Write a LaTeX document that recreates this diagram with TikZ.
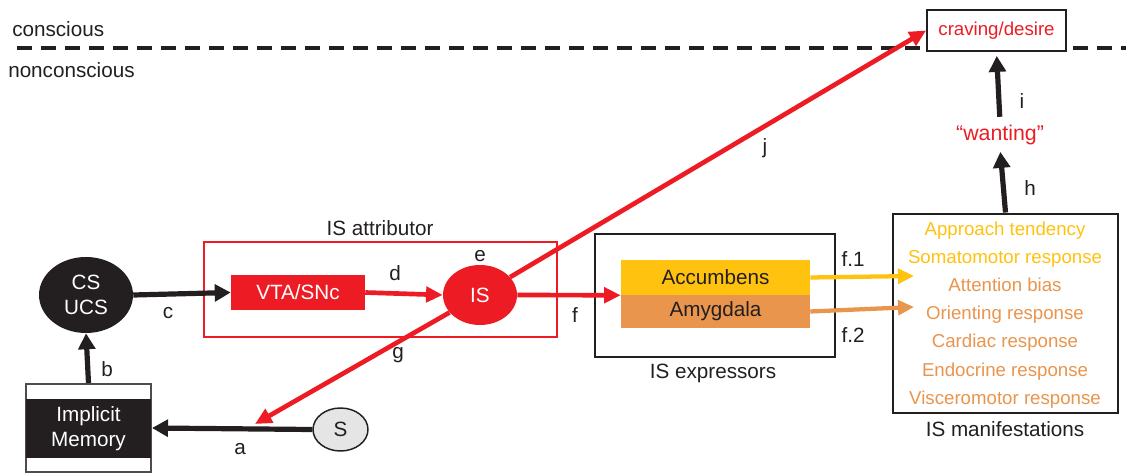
\documentclass[tikz,border=0pt]{standalone}
\usepackage{fontspec}
\setmainfont{Liberation Sans}
\usetikzlibrary{arrows.meta,shapes.geometric}
\definecolor{isred}{HTML}{ED1C24}
\definecolor{accy}{HTML}{FFC20E}
\definecolor{amyo}{HTML}{E9954D}
\definecolor{ink}{HTML}{231F20}
\begin{document}
\begin{tikzpicture}[x=0.75pt,y=-0.75pt,
  font=\fontsize{15.5}{18.75}\selectfont, text=ink,
  lbl/.style={inner sep=0pt},
  manit/.style={inner sep=0pt, anchor=base, font=\fontsize{14}{16}\selectfont},
  blkarr/.style={draw=ink, line width=3.9pt, -{Triangle[length=12pt,width=12.5pt]}},
  redarr/.style={draw=isred, line width=3.5pt, -{Triangle[length=12.5pt,width=11.5pt]}},
  colarr/.style={line width=3.2pt, -{Triangle[length=12pt,width=11pt]}},
  blkbox/.style={draw=ink, line width=2.2pt, fill=white, inner sep=0pt},
  fillbox/.style={inner sep=0pt, minimum width=141.75pt},
]
\useasboundingbox (0,0) rectangle (1126,473);

% conscious / nonconscious divide
\draw[ink, line width=2.6pt, dash pattern=on 11pt off 7pt] (17,48) -- (1126,48);
\node[lbl, anchor=base west] (cons) at (12,37) {conscious};
\node[lbl, anchor=base west] (noncons) at (8,78) {nonconscious};

% craving / desire
\node[draw=ink, line width=1.6pt, fill=white, minimum width=104pt, minimum height=30.5pt,
      inner sep=0pt, text=isred, font=\fontsize{14}{16}\selectfont] (crave) at (996.5,30.5) {craving/desire};

% wanting
\node[inner sep=2pt, text=isred, font=\fontsize{16}{18}\selectfont] (want) at (1000,135) {“wanting”};

% IS manifestations
\node[blkbox, minimum width=168.75pt, minimum height=149.25pt] (manif) at (1005.5,313.5) {};
\node[manit, text=accy] (m1) at (1005,236) {Approach tendency};
\node[manit, text=accy] (m2) at (1005,264) {Somatomotor response};
\node[manit, text=amyo] (m3) at (1005,292) {Attention bias};
\node[manit, text=amyo] (m4) at (1005,320) {Orienting response};
\node[manit, text=amyo] (m5) at (1005,348) {Cardiac response};
\node[manit, text=amyo] (m6) at (1005,376) {Endocrine response};
\node[manit, text=amyo] (m7) at (1005,404) {Visceromotor response};
\node[lbl] (manlbl) at (1005,429) {IS manifestations};

% IS expressors
\node[blkbox, minimum width=180pt, minimum height=92.25pt] (expr) at (715,295.5) {};
\node[fillbox, fill=accy, minimum height=26.25pt] (acc) at (715.5,277.5) {Accumbens};
\node[fillbox, fill=amyo, minimum height=24.75pt] (amy) at (715.5,311.5) {Amygdala};
\node[lbl] (exprlbl) at (713,373) {IS expressors};

% IS attributor
\node[draw=isred, line width=1.5pt, inner sep=0pt, minimum width=264.75pt, minimum height=71.25pt] (attr) at (380.5,289.5) {};
\node[lbl] (attrlbl) at (380,228) {IS attributor};
\node[fill=isred, text=white, inner sep=0pt, minimum width=100.5pt, minimum height=26.25pt] (vta) at (298,292.5) {VTA/SNc};
\node[ellipse, fill=isred, text=white, inner sep=0pt, minimum width=55.5pt, minimum height=45pt] (is) at (480,295) {IS};

% CS UCS
\node[ellipse, fill=ink, text=white, inner sep=0pt, minimum width=70.5pt, minimum height=57pt, align=center] (cs) at (86,295) {CS\\UCS};

% Implicit memory
\node[draw=ink!80, line width=1.5pt, fill=white, inner sep=0pt, minimum width=93.75pt, minimum height=66pt] (mem) at (88.5,428) {};
\node[fill=ink, text=white, inner sep=0pt, minimum width=93.75pt, minimum height=44.25pt, align=center] (memin) at (88.5,428.5) {Implicit\\Memory};

% S
\node[ellipse, draw=ink, line width=1.1pt, fill=black!10, inner sep=0pt, minimum width=41.25pt, minimum height=32.25pt] (s) at (340.5,429.5) {S};

% free ends
\coordinate (gtip) at (255,424);
\coordinate (f1tip) at (914,276);
\coordinate (f2tip) at (914,307);

% connectors
\draw[blkarr] (s.west) -- (mem.east);
\draw[blkarr] (mem.north) -- (cs.south);
\draw[blkarr] (cs.east) -- (vta.west);
\draw[redarr] (vta.east) -- (is.west);
\draw[redarr] (is.east) -- (acc.south west);
\draw[colarr, accy] (acc.east) -- (f1tip);
\draw[colarr, amyo] (amy.east) -- (f2tip);
\draw[blkarr, shorten >=3pt] (manif.north) -- (want.south);
\draw[blkarr, shorten <=4pt, shorten >=3pt] (want.north) -- (crave.south);
\draw[redarr] (is) -- (crave.west);
\draw[redarr] (is) -- (gtip);

% connector labels
\node[lbl] (la) at (240,449) {a};
\node[lbl] (lb) at (107,369) {b};
\node[lbl] (lc) at (168,313) {c};
\node[lbl] (ld) at (395,273) {d};
\node[lbl] (le) at (480,256) {e};
\node[lbl] (lf) at (575,315) {f};
\node[lbl] (lf1) at (853,259) {f.1};
\node[lbl] (lf2) at (853,335) {f.2};
\node[lbl] (lg) at (398,355) {g};
\node[lbl] (lh) at (1030,188) {h};
\node[lbl] (li) at (1022,101) {i};
\node[lbl] (lj) at (765,148) {j};
\end{tikzpicture}
\end{document}
